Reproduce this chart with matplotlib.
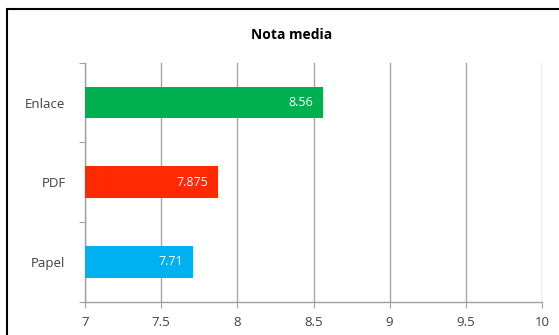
import matplotlib.pyplot as plt
from matplotlib.patches import Rectangle
import numpy as np

plt.rcParams['font.family'] = ['Open Sans', 'DejaVu Sans']

categories = ['Papel', 'PDF', 'Enlace']
values = [7.71, 7.875, 8.56]
value_labels = ['7.71', '7.875', '8.56']
colors = ['#00B0F0', '#FF2A00', '#00B050']
xticks = [7, 7.5, 8, 8.5, 9, 9.5, 10]
xtick_labels = ['7', '7.5', '8', '8.5', '9', '9.5', '10']


def main():
    fig = plt.figure(figsize=(5.59, 3.35), dpi=100)
    ax = fig.add_axes([85 / 559, 1 - 301.7 / 335, 457 / 559, 239 / 335])

    y = np.arange(len(categories))
    base = xticks[0]
    ax.barh(y, np.array(values) - base, left=base, height=0.4, color=colors, zorder=3)
    for yi, v, lab in zip(y, values, value_labels):
        ax.text(v - 0.065, yi, lab, ha='right', va='center', color='white',
                fontsize=9, zorder=4)

    ax.set_xlim(7, 10)
    ax.set_ylim(-0.5, 2.5)
    ax.set_xticks(xticks)
    ax.set_xticklabels(xtick_labels, fontsize=9.5, color='#404040')
    ax.set_yticks([-0.5, 0.5, 1.5, 2.5])
    ax.set_yticklabels([])
    ax.set_yticks(y, minor=True)
    ax.set_yticklabels(categories, minor=True, fontsize=9.5, color='#404040')
    ax.tick_params(axis='y', which='minor', length=0, pad=14)
    ax.tick_params(axis='y', which='major', length=4, color='#A0A0A0')
    ax.tick_params(axis='x', length=4, color='#A0A0A0', pad=6)

    ax.grid(axis='x', color='#A6A6A6', linewidth=1, zorder=0)
    for s in ['top', 'right']:
        ax.spines[s].set_visible(False)
    for s in ['left', 'bottom']:
        ax.spines[s].set_color('#A0A0A0')
        ax.spines[s].set_linewidth(1)

    fig.text(292 / 559, 1 - 35 / 335, 'Nota media', ha='center', va='center',
             fontsize=10, fontweight='bold', color='black')

    # outer frame of the chart (cut off on right and bottom)
    frame = Rectangle((7 / 559, -0.2), 1.2, 0.2 + (335 - 9) / 335,
                      transform=fig.transFigure, fill=False,
                      edgecolor='black', linewidth=1.5, clip_on=False)
    fig.patches.append(frame)

    fig.savefig('out.png', dpi=100)


if __name__ == '__main__':
    main()
